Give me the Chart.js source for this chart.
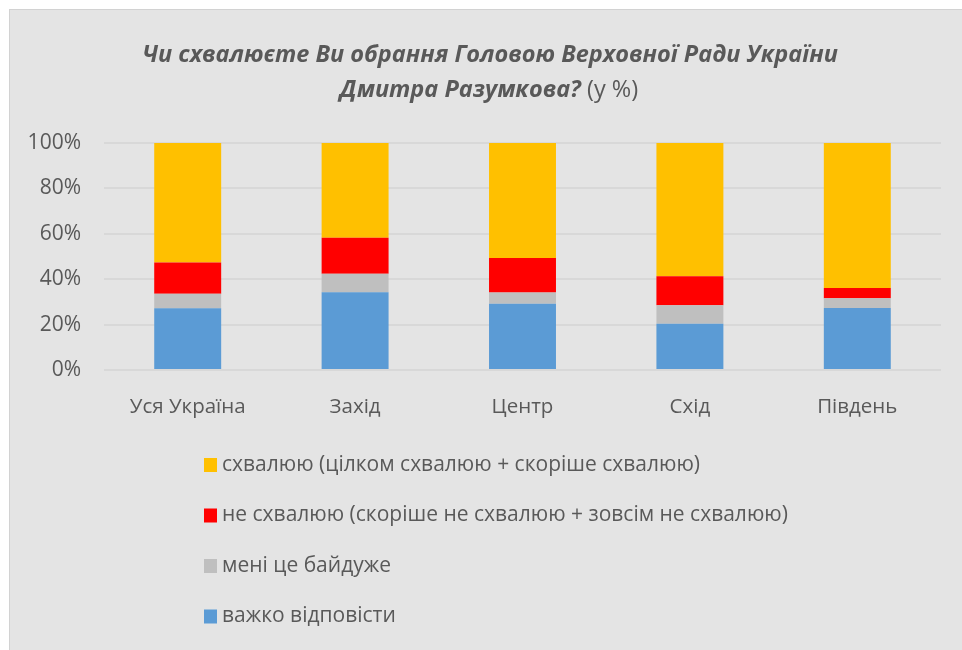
<!DOCTYPE html>
<html>
<head>
<meta charset="utf-8">
<script src="https://cdn.jsdelivr.net/npm/chart.js@4"></script>
<style>
html,body{margin:0;padding:0;background:#fff;width:962px;height:650px;overflow:hidden;}
#box{position:absolute;left:9px;top:9px;width:960px;height:650px;background:#e4e4e4;border-left:1px solid #d2d2d2;border-top:1px solid #d2d2d2;box-sizing:border-box;}
#c{position:absolute;left:0;top:0;}
</style>
</head>
<body>
<div id="box"></div>
<canvas id="c" width="962" height="650"></canvas>
<script>
const titleLine1 = 'Чи схвалюєте Ви обрання Головою Верховної Ради України';
const titleLine2Bold = 'Дмитра Разумкова?';
const titleLine2Plain = ' (у %)';
const regions = ['Уся Україна', 'Захід', 'Центр', 'Схід', 'Південь'];
const hardToSay = [27.2, 34.2, 29.2, 20.4, 27.3];
const indifferent = [6.4, 8.2, 4.9, 8.1, 4.3];
const disapprove = [13.8, 15.9, 15.2, 12.8, 4.5];
const approve = [52.6, 41.7, 50.7, 58.7, 63.9];
const yTicks = [0, 20, 40, 60, 80, 100];

const labelApprove = 'схвалюю (цілком схвалюю + скоріше схвалюю)';
const labelDisapprove = 'не схвалюю (скоріше не схвалюю + зовсім не схвалюю)';
const labelIndifferent = 'мені це байдуже';
const labelHard = 'важко відповісти';

const textColor = '#595959';
const baseFont = "'Open Sans', 'Noto Sans', sans-serif";

const titlePlugin = {
  id: 'titleAndLegend',
  afterDraw(chart) {
    const ctx = chart.ctx;
    ctx.save();
    ctx.fillStyle = textColor;
    ctx.textBaseline = 'alphabetic';
    ctx.font = "italic bold 23.5px 'Open Sans', sans-serif";
    ctx.textAlign = 'center';
    ctx.fillText(titleLine1, 490, 62);
    const fBold = "italic bold 23.5px 'Open Sans', sans-serif";
    const fPlain = "23.5px 'Open Sans', sans-serif";
    ctx.font = fBold;
    const w1 = ctx.measureText(titleLine2Bold).width;
    ctx.font = fPlain;
    const w2 = ctx.measureText(titleLine2Plain).width;
    let x = 489 - (w1 + w2) / 2;
    ctx.textAlign = 'left';
    ctx.font = fBold;
    ctx.fillText(titleLine2Bold, x, 97);
    ctx.font = fPlain;
    ctx.fillText(titleLine2Plain, x + w1, 97);
    const ds = chart.data.datasets.slice().reverse();
    ctx.font = "21px 'Open Sans', sans-serif";
    ctx.textBaseline = 'middle';
    ds.forEach((d, i) => {
      const cy = 465 + i * 50.5;
      ctx.fillStyle = d.backgroundColor;
      ctx.fillRect(204, cy - 7, 13, 14);
      ctx.fillStyle = textColor;
      ctx.fillText(d.label, 222, cy);
    });
    ctx.restore();
  }
};

new Chart(document.getElementById('c'), {
  type: 'bar',
  data: {
    labels: regions,
    datasets: [
      { label: labelHard, data: hardToSay, backgroundColor: '#5B9BD5' },
      { label: labelIndifferent, data: indifferent, backgroundColor: '#BFBFBF' },
      { label: labelDisapprove, data: disapprove, backgroundColor: '#FF0000' },
      { label: labelApprove, data: approve, backgroundColor: '#FFC000' }
    ]
  },
  options: {
    responsive: false,
    animation: false,
    devicePixelRatio: 1,
    layout: { padding: { left: 0, right: 21, top: 143, bottom: 230 } },
    plugins: {
      legend: { display: false },
      title: { display: false },
      tooltip: { enabled: false }
    },
    datasets: { bar: { barPercentage: 0.4, categoryPercentage: 1 } },
    scales: {
      x: {
        stacked: true,
        grid: { display: false, drawTicks: false },
        border: { display: false },
        ticks: { color: textColor, font: { family: baseFont, size: 20.5 }, padding: 25, maxRotation: 0 },
        afterFit(s) { s.height = 50; }
      },
      y: {
        stacked: true,
        min: 0, max: 100,
        afterBuildTicks(s) { s.ticks = yTicks.map(v => ({ value: v })); },
        grid: { color: '#d8d8d8', lineWidth: 2, drawTicks: false },
        border: { display: false },
        ticks: { color: textColor, font: { family: baseFont, size: 21 }, padding: 23, callback: v => v + '%' },
        afterFit(s) { s.width = 104; }
      }
    }
  },
  plugins: [titlePlugin]
});
</script>
</body>
</html>
